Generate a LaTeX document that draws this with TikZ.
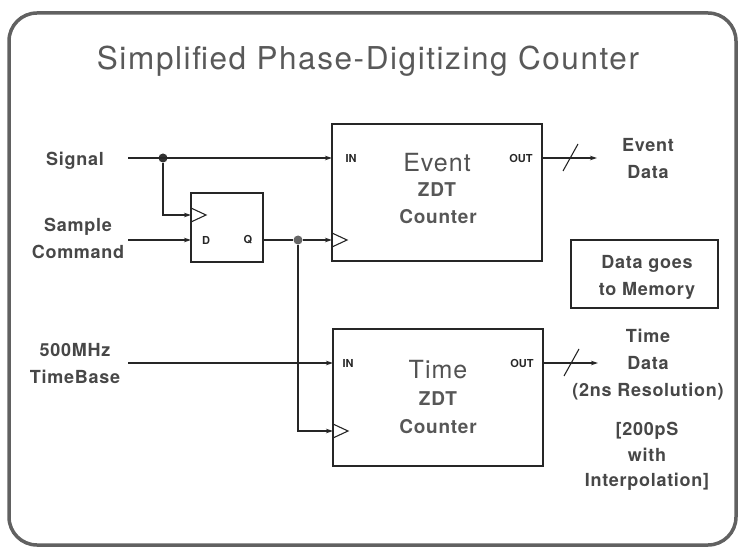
\documentclass[tikz,border=0pt]{standalone}
\usepackage{fontspec}
\setmainfont{TeX Gyre Heros}
\newfontfamily\lblfont[LetterSpace=4]{TeX Gyre Heros}
\newfontfamily\ttlfont[LetterSpace=5]{TeX Gyre Heros}
\usetikzlibrary{arrows.meta}

\newcommand\clockmark[1]{\draw[wire] ([yshift=7pt]#1) -- ++(15,7) -- ++(-15,7);}
\newcommand\busmark[1]{\draw[wire] (#1) ++(-7,13) -- ++(15,-27);}

\begin{document}
\begin{tikzpicture}[x=1pt, y=-1pt,
    wire/.style={line width=1.1pt, draw=black!85},
    feed/.style={wire, -{Stealth[length=7pt,width=4.5pt]}},
    blk/.style={draw=black!85, line width=1.3pt, outer sep=0pt, inner sep=0pt},
    dot/.style={circle, fill=black!80, minimum size=9pt, inner sep=0pt},
    lbl/.style={font=\lblfont\bfseries\fontsize{18}{27}\selectfont,
                text=black!72, align=center, inner sep=0pt, anchor=north},
    inner/.style={font=\lblfont\bfseries\fontsize{19}{19}\selectfont,
                  text=black!66, inner sep=0pt, anchor=base},
    big/.style={font=\lblfont\fontsize{25}{25}\selectfont,
                text=black!68, inner sep=0pt, anchor=base},
    pin/.style={font=\bfseries\fontsize{11}{11}\selectfont, text=black!85, inner sep=0pt},
    ]
\useasboundingbox (0,0) rectangle (739,548);
\draw[line width=3.5pt, draw=black!62, rounded corners=28pt] (9,13) rectangle (736,545);

\node[font=\ttlfont\fontsize{31.5}{31.5}\selectfont, text=black!65, inner sep=0pt]
  (title) at (368,61) {Simplified Phase-Digitizing Counter};

% blocks
\node[blk, minimum width=210pt, minimum height=137pt] (evc) at (437,192.5) {};
\node[blk, minimum width=210pt, minimum height=137pt] (tmc) at (438,397.5) {};
\node[blk, minimum width=72pt, minimum height=69pt] (ff) at (227,227.5) {};
\node[blk, minimum width=147pt, minimum height=68pt] (mem) at (644.5,274) {};

\node[big] (evname) at (437,172) {Event};
\node[inner] (evzdt) at (437,197) {ZDT};
\node[inner] (evcnt) at (438,224) {Counter};
\node[big] (tmname) at (438,378) {Time};
\node[inner] (tmzdt) at (438,405) {ZDT};
\node[inner] (tmcnt) at (438,433) {Counter};

\node[pin] (evinl) at (351,158) {IN};
\node[pin] (evoutl) at (521,158) {OUT};
\node[pin] (tminl) at (348,363) {IN};
\node[pin] (tmoutl) at (522,363) {OUT};
\node[pin] (dl) at (206,240) {D};
\node[pin] (ql) at (248,240) {Q};

% labels
\node[lbl] (sig) at (75,152) {Signal};
\node[lbl] (cmd) at (78,218) {Sample\\Command};
\node[lbl] (tb) at (75,343) {500MHz\\TimeBase};
\node[lbl] (evd) at (648,138) {Event\\Data};
\node[lbl] (memtxt) at (647,255) {Data goes\\to Memory};
\node[lbl] (tmd) at (648,329) {Time\\Data\\(2ns Resolution)};
\node[lbl, font=\lblfont\bfseries\fontsize{18}{25.5}\selectfont] (interp) at (647,422) {{[}200pS\\with\\Interpolation]};

% wiring
\coordinate (sigsrc) at (128,158);
\coordinate (cmdsrc) at (128,240);
\coordinate (tbsrc) at (128,363);
\coordinate (ffclk) at (191,215);
\coordinate (evclk) at (332,240);
\coordinate (tmclk) at (333,431);
\coordinate (evdst) at (597,158);
\coordinate (tmdst) at (598,363);
\node[dot] (sigtap) at (163,158) {};
\node[dot, fill=black!60] (qtap) at (298,240) {};

\draw[feed] (sigsrc) -- (evc.west |- sigsrc);
\draw[feed] (sigtap) |- (ffclk);
\draw[feed] (cmdsrc) -- (ff.west |- cmdsrc);
\draw[wire] (ff.east |- qtap) -- (qtap);
\draw[feed] (qtap) -- (evclk);
\draw[feed] (qtap) |- (tmclk);
\draw[feed] (tbsrc) -- (tmc.west |- tbsrc);
\draw[feed] (evc.east |- evdst) -- (evdst);
\draw[feed] (tmc.east |- tmdst) -- (tmdst);
\busmark{570,158}
\busmark{571,363}
\clockmark{ffclk}
\clockmark{evclk}
\clockmark{tmclk}
\end{tikzpicture}
\end{document}
